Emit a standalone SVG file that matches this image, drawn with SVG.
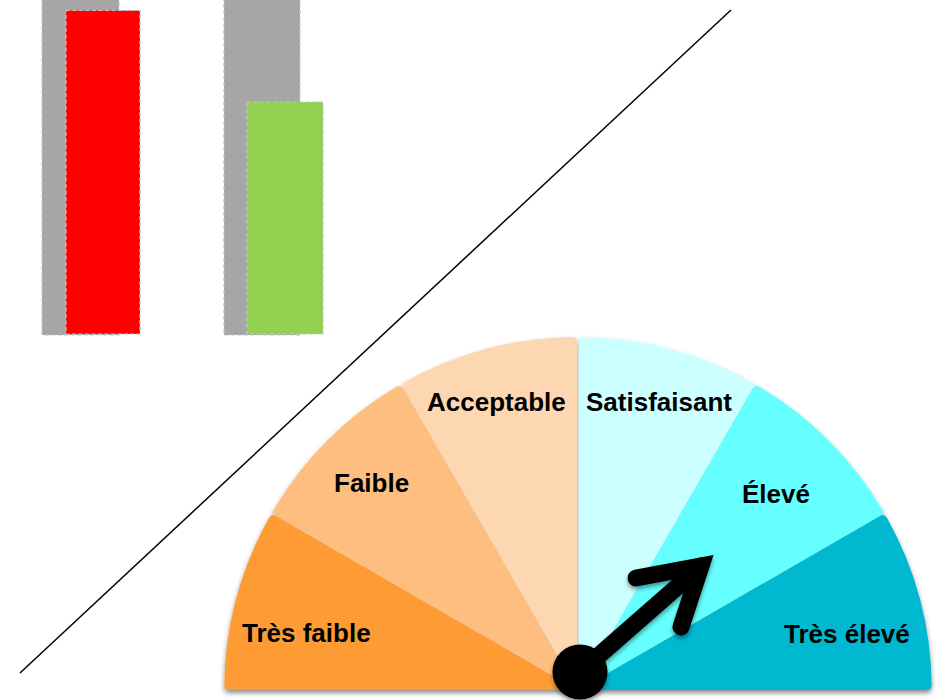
<svg xmlns="http://www.w3.org/2000/svg" width="940" height="700" viewBox="0 0 940 700">
<defs>
<filter id="sh" x="-10%" y="-10%" width="120%" height="120%">
<feDropShadow dx="0" dy="3" stdDeviation="2.5" flood-color="#000" flood-opacity="0.45"/>
</filter>
<filter id="sh2" x="-20%" y="-20%" width="140%" height="140%">
<feDropShadow dx="0" dy="3" stdDeviation="2" flood-color="#000" flood-opacity="0.4"/>
</filter>
</defs>
<style>
.lbl{font-family:"Liberation Sans",Arial,sans-serif;font-weight:bold;font-size:26px;fill:#000}
.bar{stroke:#C4C4C4;stroke-width:1.2;stroke-dasharray:4 2.5}
</style>
<rect width="940" height="700" fill="#fff"/>
<g id="bars">
<rect class="bar" x="42" y="-5" width="77" height="340" fill="#A6A6A6"/>
<rect class="bar" x="66" y="10.5" width="74" height="323.5" fill="#FF0000" stroke="#C00000"/>
<rect class="bar" x="224" y="-5" width="76" height="340" fill="#A6A6A6"/>
<rect class="bar" x="247" y="102" width="76" height="232" fill="#92D050"/>
</g>
<g id="diagonal">
<line x1="20" y1="673" x2="731" y2="10" stroke="#000" stroke-width="1.5"/>
</g>
<g id="gauge" filter="url(#sh)">
<g id="w-tres-faible" transform="translate(-0.75,0)"><path d="M578 690 L230 690 Q225 690 225.03 685.01 A353 353 0 0 1 269.83 517.84 Q272.3 513.5 276.6 516 Z" fill="#FF9B35"/></g>
<g id="w-faible" transform="translate(-0.75,0)"><path d="M578 690 L276.6 516 Q272.3 513.5 274.83 509.18 A353 353 0 0 1 397.18 386.83 Q401.5 384.3 404 388.6 Z" fill="#FDBE80"/></g>
<g id="w-acceptable" transform="translate(-0.75,0)"><path d="M578 690 L404 388.6 Q401.5 384.3 405.84 381.83 A353 353 0 0 1 573.01 337.03 Q578 337 578 342 Z" fill="#FDD7B1"/></g>
<g id="w-satisfaisant" transform="translate(0.75,0)"><path d="M578 690 L578 342 Q578 337 582.99 337.03 A353 353 0 0 1 750.16 381.83 Q754.5 384.3 752 388.6 Z" fill="#CCFFFF"/></g>
<g id="w-eleve" transform="translate(0.75,0)"><path d="M578 690 L752 388.6 Q754.5 384.3 758.82 386.83 A353 353 0 0 1 881.17 509.18 Q883.7 513.5 879.4 516 Z" fill="#66FFFF"/></g>
<g id="w-tres-eleve" transform="translate(0.75,0)"><path d="M578 690 L879.4 516 Q883.7 513.5 886.17 517.84 A353 353 0 0 1 930.97 685.01 Q931 690 926 690 Z" fill="#00B8D0"/></g>
</g>
<g id="labels">
<text class="lbl" x="427" y="411">Acceptable</text>
<text class="lbl" x="586" y="411">Satisfaisant</text>
<text class="lbl" x="334" y="492">Faible</text>
<text class="lbl" x="742" y="503">Élevé</text>
<text class="lbl" x="242" y="642">Très faible</text>
<text class="lbl" x="784" y="643">Très élevé</text>
</g>
<g id="needle" filter="url(#sh2)">
<path d="M580 672 L701 566" stroke="#000" stroke-width="17" stroke-linecap="round" fill="none"/>
<path d="M636 578 L701 566 L681 627" stroke="#000" stroke-width="17" stroke-linecap="round" stroke-linejoin="miter" fill="none"/>
<circle cx="580" cy="672" r="27.5" fill="#000"/>
</g>
</svg>
